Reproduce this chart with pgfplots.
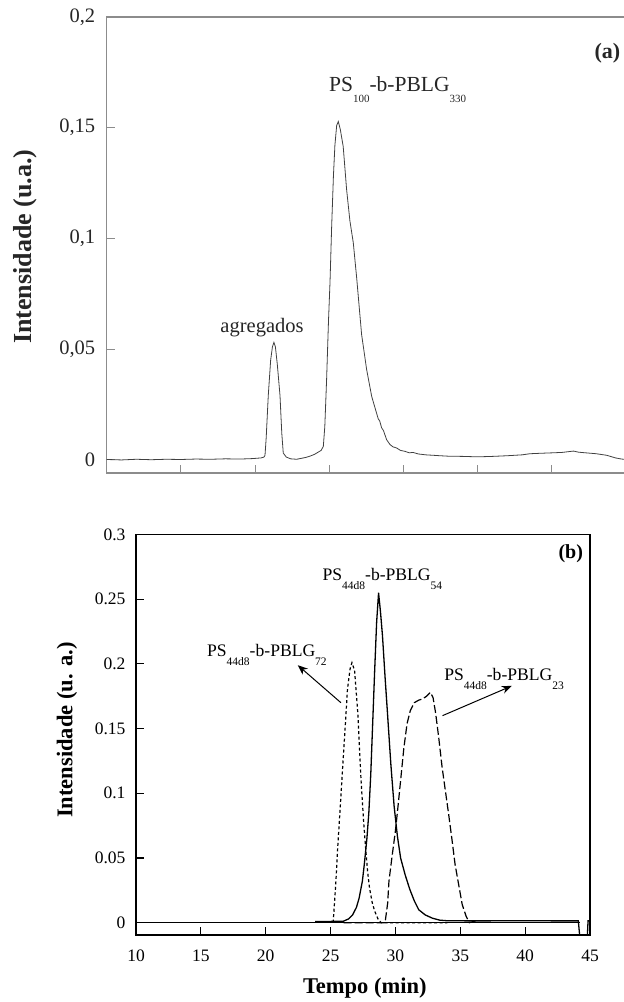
\documentclass[border=0pt]{standalone}
\usepackage{fontspec}
\setmainfont{Liberation Serif}
\usepackage{pgfplots}
\pgfplotsset{compat=1.18}
\usetikzlibrary{arrows.meta}

\newcommand\fs[1]{\fontsize{#1}{#1}\selectfont}
\newcommand\suba[1]{\raisebox{-11pt}{\fs{11}#1}}
\newcommand\subb[1]{\raisebox{-9pt}{\fs{11.5}#1}}

\definecolor{axgray}{gray}{0.55}
\definecolor{trgray}{gray}{0.25}

\begin{document}
\begin{tikzpicture}
\useasboundingbox (0,0) rectangle (624pt,1002pt);
\clip (0,0) rectangle (624pt,1002pt);

% (a)
\begin{axis}[
    at={(106.7pt,529pt)}, anchor=south west,
    scale only axis, width=519.3pt, height=456pt,
    xmin=10, xmax=45, ymin=-0.006, ymax=0.2,
    axis line style={axgray, line width=1.2pt},
    tick style={axgray, line width=1pt},
    major tick length=8pt,
    xtick={15,20,...,40}, xticklabels={},
    ytick={0,0.05,0.1,0.15,0.2},
    yticklabels={0,{0,05},{0,1},{0,15},{0,2}},
    xtick pos=bottom, ytick pos=left,
    yticklabel style={font=\fs{20.5}, text=black!85, xshift=-8pt},
    ylabel={\bfseries Intensidade (u.a.)},
    ylabel style={font=\fs{26}, text=black!85, at={(axis description cs:-0.157,0.496)}, anchor=center},
]
\addplot[trgray, line width=0.8pt] table {
x y
10.0 0.0001
11.0 -0.0001
12.0 0.0002
13.0 0.0000
14.0 0.0002
15.0 0.0001
16.0 0.0003
17.0 0.0002
18.0 0.0004
19.0 0.0003
19.8 0.0005
20.4 0.0008
20.6 0.0012
20.67 0.002
20.75 0.010
20.89 0.029
21.05 0.045
21.17 0.051
21.27 0.053
21.37 0.051
21.5 0.043
21.68 0.029
21.8 0.012
21.9 0.003
22.1 0.0012
22.4 0.0004
22.8 0.0002
23.1 0.0006
23.4 0.0010
23.7 0.0016
24.0 0.0024
24.2 0.0032
24.45 0.0042
24.6 0.006
24.7 0.015
24.82 0.036
24.95 0.063
25.05 0.080
25.16 0.105
25.28 0.128
25.38 0.142
25.5 0.151
25.61 0.1528
25.75 0.149
25.94 0.1415
26.17 0.122
26.39 0.108
26.62 0.098
26.85 0.082
27.18 0.0566
27.52 0.0407
27.86 0.0286
28.19 0.021
28.3 0.0185
28.4 0.0175
28.53 0.0144
28.65 0.0132
28.87 0.009
29.1 0.0068
29.3 0.0058
29.54 0.0053
29.8 0.0042
30.1 0.0038
30.4 0.0031
30.64 0.0033
31.0 0.0026
31.5 0.0022
32.0 0.0020
32.46 0.0018
33.0 0.0016
34.0 0.0015
35.0 0.0013
36.0 0.0015
37.0 0.0018
38.0 0.0022
38.52 0.0027
39.2 0.0029
40.0 0.0031
40.7 0.0033
41.2 0.0037
41.47 0.0039
41.8 0.0034
42.3 0.0031
43.0 0.0027
43.7 0.0020
44.3 0.0008
44.7 0.0003
45.0 0.0001
};
\node[font=\fs{20.5}, text=black!85, anchor=base] at (axis cs:20.47,0.0574) {agregados};
\node[font=\fs{21.5}, text=black!85, anchor=base west, inner sep=0pt] at (axis cs:24.98,0.1663) {PS\suba{100}-b-PBLG\suba{330}};
\node[font=\bfseries\fs{22}, text=black!85] at (axis cs:43.75,0.1838) {(a)};
\end{axis}

% (b)
\begin{axis}[
    at={(136pt,67pt)}, anchor=south west,
    scale only axis, width=454pt, height=400.5pt,
    xmin=10, xmax=45, ymin=-0.0095, ymax=0.3,
    axis line style={black, line width=1.3pt},
    tick style={black, line width=1.1pt},
    major tick length=8pt,
    xtick={10,15,...,45},
    xticklabels={10,15,20,25,30,35,40,45},
    ytick={0,0.05,0.1,0.15,0.2,0.25,0.3},
    yticklabels={0,0.05,0.1,0.15,0.2,0.25,0.3},
    xtick pos=bottom, ytick pos=left,
    xticklabel style={font=\fs{17.5}, yshift=-11.5pt},
    yticklabel style={font=\fs{17.5}, xshift=-7pt},
    xlabel={\bfseries Tempo (min)},
    xlabel style={font=\fs{22.5}, at={(axis description cs:0.504,-0.132)}, anchor=center},
    ylabel={\bfseries Intensidade (u. a.)},
    ylabel style={font=\fs{22.5}, at={(axis description cs:-0.152,0.512)}, anchor=center},
]
% zero line
\addplot[black, line width=0.7pt] coordinates {(10,0) (44.2,0)};
% PS44d8-b-PBLG72
\addplot[black, line width=1.2pt, dash pattern=on 3pt off 2.5pt] table {
x y
25.2 0.0
25.4 0.03
25.55 0.058
25.75 0.09
25.95 0.123
26.15 0.155
26.3 0.180
26.5 0.196
26.65 0.201
26.85 0.195
27.1 0.162
27.35 0.110
27.55 0.078
27.7 0.058
27.85 0.040
28.0 0.027
28.2 0.016
28.4 0.009
28.65 0.003
28.9 0.0
34.0 0.0
};
% PS44d8-b-PBLG23
\addplot[black, line width=1.2pt, dash pattern=on 8pt off 3pt] table {
x y
26.0 0.0
29.2 0.0
29.4 0.015
29.5 0.032
29.75 0.052
30.0 0.071
30.2 0.09
30.4 0.110
30.65 0.135
30.9 0.154
31.15 0.164
31.45 0.170
31.8 0.172
32.1 0.173
32.4 0.175
32.7 0.178
32.9 0.174
33.1 0.162
33.35 0.142
33.6 0.120
33.85 0.102
34.1 0.084
34.35 0.065
34.6 0.045
34.9 0.028
35.15 0.014
35.45 0.005
35.7 0.0
36.2 0.0015
};
% PS44d8-b-PBLG54
\addplot[black, line width=1.3pt] table {
x y
23.8 0.001
25.0 0.001
26.0 0.0012
26.4 0.003
26.7 0.006
27.0 0.012
27.2 0.019
27.45 0.032
27.6 0.045
27.8 0.065
27.95 0.085
28.1 0.115
28.25 0.155
28.4 0.195
28.55 0.232
28.7 0.255
28.85 0.240
29.0 0.222
29.2 0.190
29.4 0.160
29.65 0.122
29.9 0.090
30.15 0.067
30.4 0.050
30.75 0.037
31.1 0.026
31.45 0.017
31.8 0.010
32.3 0.006
32.85 0.0035
33.4 0.002
34.0 0.0015
36.0 0.0014
40.0 0.0015
43.0 0.0014
44.1 0.0014
44.2 -0.0095
44.8 -0.0095
44.85 0.0014
44.95 0.0014
};
\draw[-{Stealth[length=10pt,width=8pt]}, line width=1pt] (axis cs:25.8,0.170) -- (axis cs:22.47,0.199);
\draw[-{Stealth[length=10pt,width=8pt]}, line width=1pt] (axis cs:33.63,0.160) -- (axis cs:38.97,0.183);
\node[font=\fs{17.6}, anchor=base west, inner sep=0pt] at (axis cs:24.37,0.2648) {PS\subb{44d8}-b-PBLG\subb{54}};
\node[font=\fs{17.6}, anchor=base west, inner sep=0pt] at (axis cs:15.47,0.2056) {PS\subb{44d8}-b-PBLG\subb{72}};
\node[font=\fs{17.6}, anchor=base west, inner sep=0pt] at (axis cs:33.75,0.187) {PS\subb{44d8}-b-PBLG\subb{23}};
\node[font=\bfseries\fs{20}] at (axis cs:43.52,0.2855) {(b)};
\end{axis}
\end{tikzpicture}
\end{document}
